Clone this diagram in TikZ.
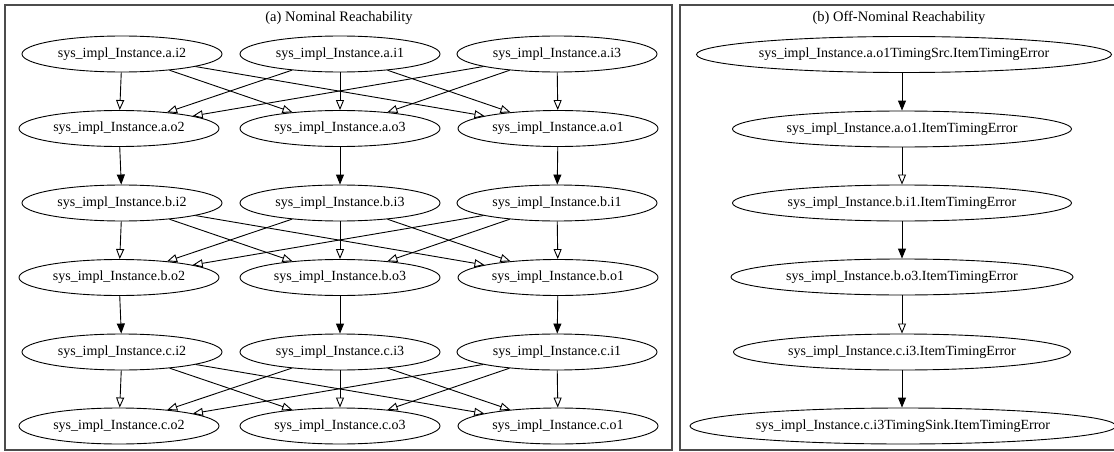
\documentclass[tikz,border=0pt]{standalone}
\usepackage{fontspec}
\setmainfont{Liberation Serif}
\usetikzlibrary{shapes.geometric,arrows.meta}
\begin{document}
\begin{tikzpicture}[x=1pt,y=-1pt,
  panel/.style={draw=black!70,line width=1.3pt},
  ttl/.style={font=\fontsize{14.5}{16}\selectfont,inner sep=0pt},
  lnode/.style={draw,ellipse,line width=0.9pt,minimum width=200pt,minimum height=36pt,inner xsep=-40pt,inner ysep=0pt,font=\fontsize{14}{16}\selectfont},
  rnode/.style={draw,ellipse,line width=0.9pt,minimum height=36pt,inner xsep=-40pt,inner ysep=0pt,font=\fontsize{14}{16}\selectfont},
  oarr/.style={line width=0.9pt,-{Triangle[open,length=10pt,width=8pt]}},
  farr/.style={line width=0.9pt,-{Triangle[length=10pt,width=8pt]}}
]
\useasboundingbox (0,0) rectangle (1114,452);
\fill[white] (0,0) rectangle (1114,452);
% panels
\draw[panel] (5,5) rectangle (672,450);
\draw[panel] (1116,5) -- (680,5) -- (680,450) -- (1116,450);
\node[ttl] (ta) at (339,18) {(a) Nominal Reachability};
\node[ttl] (tb) at (899,18) {(b) Off-Nominal Reachability};
% left nodes
\node[lnode] (ai2) at (122,54) {sys\_impl\_Instance.a.i2};
\node[lnode] (ai1) at (340,54) {sys\_impl\_Instance.a.i1};
\node[lnode] (ai3) at (557,54) {sys\_impl\_Instance.a.i3};
\node[lnode] (ao2) at (119,128.5) {sys\_impl\_Instance.a.o2};
\node[lnode] (ao3) at (340,128.5) {sys\_impl\_Instance.a.o3};
\node[lnode] (ao1) at (558,128.5) {sys\_impl\_Instance.a.o1};
\node[lnode] (bi2) at (122,203) {sys\_impl\_Instance.b.i2};
\node[lnode] (bi3) at (340,203) {sys\_impl\_Instance.b.i3};
\node[lnode] (bi1) at (557,203) {sys\_impl\_Instance.b.i1};
\node[lnode] (bo2) at (119,277.5) {sys\_impl\_Instance.b.o2};
\node[lnode] (bo3) at (340,277.5) {sys\_impl\_Instance.b.o3};
\node[lnode] (bo1) at (558,277.5) {sys\_impl\_Instance.b.o1};
\node[lnode] (ci2) at (122,352) {sys\_impl\_Instance.c.i2};
\node[lnode] (ci3) at (340,352) {sys\_impl\_Instance.c.i3};
\node[lnode] (ci1) at (557,352) {sys\_impl\_Instance.c.i1};
\node[lnode] (co2) at (119,426) {sys\_impl\_Instance.c.o2};
\node[lnode] (co3) at (340,426) {sys\_impl\_Instance.c.o3};
\node[lnode] (co1) at (558,426) {sys\_impl\_Instance.c.o1};
% left edges
\foreach \r in {a,b,c}{
  \foreach \i in {2,1,3}{
    \foreach \o in {2,3,1}{
      \draw[oarr] (\r i\i) -- (\r o\o);
    }
  }
}
\draw[farr] (ao2) -- (bi2);
\draw[farr] (ao3) -- (bi3);
\draw[farr] (ao1) -- (bi1);
\draw[farr] (bo2) -- (ci2);
\draw[farr] (bo3) -- (ci3);
\draw[farr] (bo1) -- (ci1);
% right nodes
\node[rnode,minimum width=415pt] (src) at (904,54.5) {sys\_impl\_Instance.a.o1TimingSrc.ItemTimingError};
\node[rnode,minimum width=339pt] (rao1) at (902,129) {sys\_impl\_Instance.a.o1.ItemTimingError};
\node[rnode,minimum width=339pt] (rbi1) at (902,203) {sys\_impl\_Instance.b.i1.ItemTimingError};
\node[rnode,minimum width=342pt] (rbo3) at (902,277) {sys\_impl\_Instance.b.o3.ItemTimingError};
\node[rnode,minimum width=337pt] (rci3) at (902,352) {sys\_impl\_Instance.c.i3.ItemTimingError};
\node[rnode,minimum width=426pt] (sink) at (903,426) {sys\_impl\_Instance.c.i3TimingSink.ItemTimingError};
\draw[farr] (src.south -| rao1) -- (rao1);
\draw[oarr] (rao1) -- (rbi1);
\draw[farr] (rbi1) -- (rbo3);
\draw[oarr] (rbo3) -- (rci3);
\draw[farr] (rci3) -- (sink.north -| rci3);
\end{tikzpicture}
\end{document}
